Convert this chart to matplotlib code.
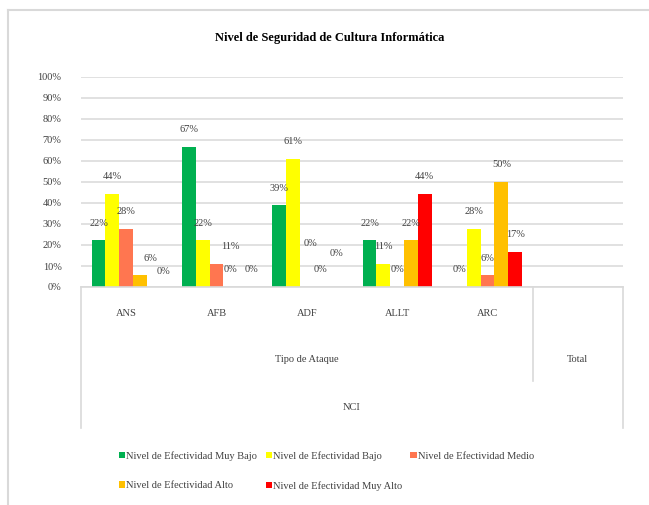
import matplotlib
matplotlib.use("Agg")
import matplotlib.pyplot as plt
from matplotlib.lines import Line2D
from matplotlib.patches import Patch
from matplotlib.ticker import PercentFormatter
import matplotlib.transforms as mtransforms
import numpy as np

plt.rcParams['font.family'] = ['Liberation Serif', 'DejaVu Serif']

# data
categories = ["ANS", "AFB", "ADF", "ALLT", "ARC", "Total"]
series_names = ["Nivel de Efectividad Muy Bajo", "Nivel de Efectividad Bajo",
                "Nivel de Efectividad Medio", "Nivel de Efectividad Alto",
                "Nivel de Efectividad Muy Alto"]
muy_bajo = [0.222, 0.667, 0.389, 0.222, 0.0]
bajo = [0.444, 0.222, 0.611, 0.111, 0.278]
medio = [0.278, 0.111, 0.0, 0.0, 0.056]
alto = [0.056, 0.0, 0.0, 0.222, 0.500]
muy_alto = [0.0, 0.0, 0.0, 0.444, 0.167]
colors = ["#00b050", "#ffff00", "#ff7650", "#ffc000", "#ff0000"]

series = [muy_bajo, bajo, medio, alto, muy_alto]

# label nudges (pixels) for the labels Excel shifted around
nudges = {(0, 3): (10, 0), (0, 4): (10, -2), (1, 2): (14, 0), (1, 4): (7, 0),
          (2, 2): (4, 27), (2, 4): (2, 16)}

W, H = 649, 505
fig = plt.figure(figsize=(W / 100, H / 100), dpi=100)
ax = fig.add_axes([81 / W, 1 - 287 / H, 542 / W, 210 / H])

grey = "#d9d9d9"
bw = 0.153
x = np.arange(len(categories) - 1)
for i, (vals, c) in enumerate(zip(series, colors)):
    pos = x + (i - 2) * bw
    ax.bar(pos, vals, width=bw, color=c, zorder=3)
    for j, v in enumerate(vals):
        dx, dy = nudges.get((j, i), (0, 0))
        ax.annotate(f"{v:.0%}", (pos[j], v), xytext=(dx * 0.72, (17 + dy) * 0.72),
                    textcoords="offset points", ha="center", va="center",
                    fontsize=7.5, color="#404040", zorder=4)

ax.set_xlim(-0.5, len(categories) - 0.5)
ax.set_ylim(0, 1)
ax.set_yticks(np.arange(0, 1.01, 0.1))
ax.yaxis.set_major_formatter(PercentFormatter(1.0, decimals=0))
ax.tick_params(axis="y", length=0, labelsize=7.5, labelcolor="#404040", pad=14)
ax.set_xticks([])
for s in ax.spines.values():
    s.set_visible(False)
ax.grid(axis="y", color=grey, linewidth=1.1, zorder=0)

# multi-level category axis box
tr = mtransforms.blended_transform_factory(ax.transData, ax.transAxes)
n = len(categories)
box_bottom = (287 - 428) / 210
div_bottom = (287 - 381) / 210
for xs, ys in [((-0.5, n - 0.5), (0, 0)),
               ((-0.5, -0.5), (0, box_bottom)),
               ((n - 0.5, n - 0.5), (0, box_bottom)),
               ((n - 1.5, n - 1.5), (0, div_bottom))]:
    ax.add_line(Line2D(xs, ys, transform=tr, color=grey, linewidth=1.2,
                       clip_on=False, zorder=5))

for j, cat in enumerate(categories[:-1]):
    ax.text(j, -26 / 210, cat, transform=tr, ha="center", va="center",
            fontsize=7.5, color="#404040")
ax.text((n - 2) / 2, -73 / 210, "Tipo de Ataque", transform=tr, ha="center",
        va="center", fontsize=7.5, color="#404040")
ax.text(n - 1, -73 / 210, categories[-1], transform=tr, ha="center",
        va="center", fontsize=7.5, color="#404040")
ax.text((n - 1) / 2, -121 / 210, "NCI", transform=tr, ha="center",
        va="center", fontsize=7.5, color="#404040")

fig.text(330 / W, 1 - 38 / H, "Nivel de Seguridad de Cultura Informática",
         ha="center", va="center", fontsize=9, fontweight="bold", color="black")

# outer chart border (left and top edges are visible)
fig.add_artist(Line2D([8 / W, 8 / W], [0, 1 - 10 / H], transform=fig.transFigure,
                      color=grey, linewidth=1.5))
fig.add_artist(Line2D([8 / W, 1], [1 - 10 / H, 1 - 10 / H], transform=fig.transFigure,
                      color=grey, linewidth=1.5))

# legend fills column by column, so reorder to read row by row like Excel
order = [0, 3, 1, 4, 2]
handles = [Patch(facecolor=colors[k]) for k in order]
labels = [series_names[k] for k in order]
fig.legend(handles, labels, loc="upper left",
           bbox_to_anchor=(119 / W, 1 - 451 / H), ncol=3, frameon=False,
           fontsize=7.5, handlelength=0.6, handleheight=0.6, handletextpad=0.1,
           columnspacing=0.8, labelspacing=1.95, borderpad=0, borderaxespad=0,
           labelcolor="#404040")

fig.savefig("out.png", dpi=100)
